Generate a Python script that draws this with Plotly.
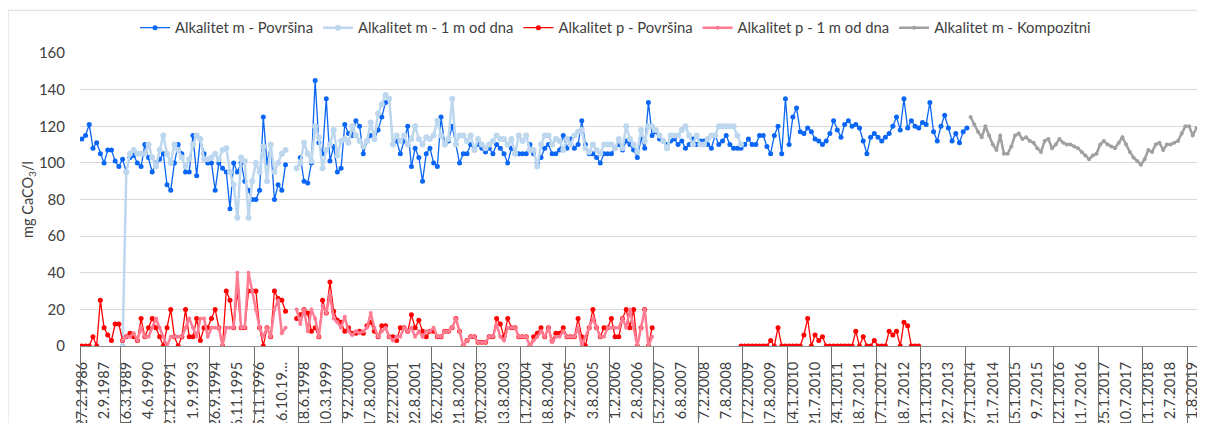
import plotly.graph_objects as go

# ---------------- data (category index = sample number) ----------------
tick_labels = ["27.2.1986", "2.9.1987", "16.3.1989", "4.6.1990", "2.12.1991", "1.9.1993",
               "26.9.1994", "6.11.1995", "5.11.1996", "16.10.19...", "18.6.1998", "10.3.1999",
               "9.2.2000", "17.8.2000", "22.2.2001", "22.8.2001", "26.2.2002", "21.8.2002",
               "20.2.2003", "13.8.2003", "11.2.2004", "18.8.2004", "9.2.2005", "3.8.2005",
               "1.2.2006", "2.8.2006", "15.2.2007", "6.8.2007", "7.2.2008", "7.8.2008",
               "17.2.2009", "17.8.2009", "14.1.2010", "21.7.2010", "24.1.2011", "18.7.2011",
               "17.1.2012", "18.7.2012", "21.1.2013", "22.7.2013", "27.1.2014", "21.7.2014",
               "15.1.2015", "9.7.2015", "12.1.2016", "11.7.2016", "25.1.2017", "10.7.2017",
               "11.1.2018", "2.7.2018", "1.8.2019"]
label_step = 6          # one label every 6 samples
separator_step = 12     # long tick lines every 12 samples
n_categories = 304

# Alkalitet m - Površina (starts at sample 0)
m_pov_start = 0
m_pov = [113, 115, 121, 108, 111, 105, 100, 107, 107, 101, 98, 102, 95, 103, 104, 100, 98, 110, 103, 95,
         100, 102, 105, 88, 85, 100, 110, 105, 95, 95, 115, 93, 113, 105, 100, 100, 85, 100, 97, 95,
         75, 100, 95, 100, 90, 85, 80, 80, 85, 125, 100, 110, 80, 88, 85, 99,
         None, None, None,
         103, 90, 89, 100, 145, 111, 105, 135, 101, 109, 95, 97, 121, 116, 115, 123, 120, 105, 112, 115,
         113, 118, 125, 133, 135, 110, 112, 105, 112, 120, 98, 108, 103, 90, 105, 108, 100, 98, 125, 110,
         112, 120, 110, 100, 105, 105, 110, 108, 110, 108, 106, 108, 105, 110, 108, 105, 100, 108, 105,
         105, 105, 105, 110, 105, 100, 103, 108, 110, 105, 105, 107, 115, 108, 113, 108, 110, 123, 110, 105,
         105, 103, 100, 105, 105, 105, 108, 110, 107, 112, 110, 107, 103, 113, 108, 133, 115, 117, 113, 112,
         110, 112, 113, 110, 112, 108, 110, 113, 110, 112, 112, 110, 108, 115, 110, 112, 115, 110, 108, 108,
         108, 110, 113, 110, 110, 115, 115, 109, 105, 115, 120, 105, 135, 110, 125, 130, 117, 116, 119, 117,
         113, 112, 110, 112, 116, 123, 118, 114, 121, 123, 120, 121, 119, 112, 105, 114, 116, 114, 112, 114,
         116, 120, 125, 118, 135, 119, 123, 120, 119, 122, 121, 133, 117, 112, 120, 126, 119, 112, 116, 111,
         117, 119]

# Alkalitet m - 1 m od dna (starts at sample 11)
m_dno_start = 11
m_dno = [0, 95, 105, 107, 105, 105, 105, 110, 103, 98, 107, 115, 105, 100, 110, 107, 103, 98, 102, 110,
         115, 113, 102, 102, 103, 105, 102, 107, 108, 95, 88, 70, 103, 101, 70, 90, 100, 95, 109, 90,
         110, 95, 100, 105, 107,
         None, None,
         97, 100, 111, 105, 101, 120, 114, 97, 107, 110, 118, 104, 112, 113, 111, 120, 115, 112, 109, 112,
         122, 113, 127, 132, 137, 135, 110, 115, 112, 115, 110, 113, 120, 113, 110, 114, 113, 115, 123, 115,
         110, 113, 135, 110, 115, 115, 112, 115, 107, 113, 110, 108, 110, 112, 115, 113, 113, 110, 113, 105,
         115, 112, 115, 107, 107, 98, 110, 115, 115, 110, 113, 112, 107, 113, 110, 115, 117, 118, 108, 106,
         110, 107, 105, 110, 110, 110, 108, 113, 108, 120, 113, 110, 106, 118, 112, 120, 120, 118, 115, 112,
         108, 115, 115, 115, 118, 120, 115, 110, 115, 110, 110, 113, 115, 115, 120, 120, 120, 120, 120, 115,
         110]

# Alkalitet p - Površina: 1986-2007 (from sample 0) and 2009-2013 (from sample 178)
p_pov_a_start = 0
p_pov_a = [0, 0, 0, 5, 0, 25, 10, 6, 3, 12, 12, 3, 5, 7, 5, 3, 15, 5, 10, 15,
           10, 5, 0, 10, 20, 5, 0, 5, 20, 5, 5, 15, 3, 10, 10, 15, 20, 10, 0, 30,
           25, 10, 30, 10, 10, 30, 30, 30, 10, 0, 10, 5, 30, 26, 25, 19,
           None, None,
           15, 17, 20, 18, 8, 10, 5, 25, 18, 35, 19, 14, 13, 8, 10, 7, 7, 8, 7, 11,
           13, 8, 5, 11, 11, 5, 5, 3,
           10, 10, 8, 17, 10, 14, 8, 5, 8, 8, 5, 5, 8, 8, 10, 15, 8, 0, 3, 5,
           5, 2, 2, 2, 5, 5, 15, 12, 5, 15, 10, 10, 5, 5, 5, 0, 5, 7, 10, 5,
           10, 3, 7, 7, 10, 5, 5, 5, 15, 5, 0, 10, 20, 10, 5, 10, 10, 15, 5, 5,
           15, 20, 10, 20, 0, 10, 20, 0, 10]
p_pov_b_start = 178
p_pov_b = [0, 0, 0, 0, 0, 0, 0, 0, 3, 0, 10, 0, 0, 0, 0, 0, 0, 6, 15, 0,
           6, 3, 5, 0, 0, 0, 0, 0, 0, 0, 0, 8, 0, 5, 0, 0, 3, 0, 0, 0,
           8, 6, 8, 0, 13, 11, 0, 0, 0]

# Alkalitet p - 1 m od dna (starts at sample 11)
p_dno_start = 11
p_dno = [3, 5, 5, 7, 3, 10, 5, 5, 10, 15, 10, 5, 0, 5, 5, 5, 5, 10, 15, 10,
         5, 15, 15, 5, 10, 10, 10, 0, 10, 10, 10, 40, 10, 10, 40, 30, 20, 10, 5, 10,
         5, 20, 25, 7, 10,
         None, None,
         20, 12, 20, 8, 20, 15, 5, 22, 18, 28, 15, 13, 10, 16, 8, 6, 8, 7, 8, 10,
         18, 10, 5, 8, 10, 5, 3, 5,
         5, 10, 8, 10, 5, 8, 5, 8, 8, 10, 5, 5, 8, 8, 10, 15, 8, 0, 3, 5,
         5, 2, 2, 2, 5, 5, 12, 5, 3, 10, 10, 10, 5, 5, 5, 0, 3, 5, 8, 5,
         10, 2, 5, 5, 8, 5, 5, 5, 10, 0, 5, 10, 15, 10, 5, 5, 10, 10, 10, 10,
         15, 10, 20, 10, 0, 10, 20, 0, 5]

# Alkalitet m - Kompozitni (starts at sample 240)
m_komp_start = 240
m_komp = [125, 121, 117, 114, 120, 115, 110, 107, 115, 105, 105, 109, 115, 116, 113, 114, 112, 111, 108, 106,
          112, 113, 108, 110, 113, 111, 110, 110, 109, 108, 106, 104, 102, 104, 105, 110, 112, 110, 109, 108,
          111, 114, 110, 106, 103, 101, 99, 102, 107, 106, 110, 111, 107, 110, 110, 111, 112, 116, 120, 120,
          115, 119, 118, 119]


def idx(start, values):
    return list(range(start, start + len(values)))


FONT = "Lato"
TXT = "#404040"

tickvals = [k * label_step for k in range(len(tick_labels))]
separators = [-0.5] + [10.5 + k * separator_step for k in range(25)]
x_range = [-0.5, n_categories - 0.7]

fig = go.Figure()

# invisible helper so the separator-tick axis (x2) gets drawn
fig.add_trace(go.Scatter(x=x_range, y=[None, None], xaxis="x2", yaxis="y",
                         mode="lines", showlegend=False, hoverinfo="skip"))

fig.add_trace(go.Scatter(
    x=idx(m_pov_start, m_pov), y=m_pov, name="Alkalitet m - Površina",
    mode="lines+markers", connectgaps=False,
    line=dict(color="#0A66F5", width=1.3), marker=dict(color="#0A66F5", size=5)))
fig.add_trace(go.Scatter(
    x=idx(m_dno_start, m_dno), y=m_dno, name="Alkalitet m - 1 m od dna",
    mode="lines+markers", connectgaps=False,
    line=dict(color="#BDD7EE", width=2.5), marker=dict(color="#BDD7EE", size=6)))
fig.add_trace(go.Scatter(
    x=idx(p_pov_a_start, p_pov_a) + [None] + idx(p_pov_b_start, p_pov_b),
    y=p_pov_a + [None] + p_pov_b, name="Alkalitet p - Površina",
    mode="lines+markers", connectgaps=False,
    line=dict(color="#FF0000", width=1.3), marker=dict(color="#FF0000", size=5)))
fig.add_trace(go.Scatter(
    x=idx(p_dno_start, p_dno), y=p_dno, name="Alkalitet p - 1 m od dna",
    mode="lines+markers", connectgaps=False,
    line=dict(color="#FF7C93", width=2.5), marker=dict(color="#FF7C93", size=4)))
fig.add_trace(go.Scatter(
    x=idx(m_komp_start, m_komp), y=m_komp, name="Alkalitet m - Kompozitni",
    mode="lines+markers", connectgaps=False,
    line=dict(color="#A0A0A0", width=2.5), marker=dict(color="#A0A0A0", size=4)))

# page body has an 8px margin: the figure is sized so the plot lands where the reference has it
fig.update_layout(
    width=1197, height=415,
    margin=dict(l=72, r=0, t=45, b=77, autoexpand=False),
    paper_bgcolor="white", plot_bgcolor="white",
    font=dict(family=FONT, color=TXT, size=14),
    showlegend=True,
    legend=dict(orientation="h", x=0.476, xanchor="center", y=1.085, yanchor="middle",
                font=dict(family=FONT, size=14.8, color=TXT), bgcolor="rgba(0,0,0,0)",
                itemwidth=30, tracegroupgap=0),
    xaxis=dict(
        range=x_range, automargin=False,
        tickmode="array", tickvals=tickvals, ticktext=tick_labels,
        tickangle=-90, ticks="", showgrid=False, zeroline=False,
        showline=True, linecolor="#8C8C8C", linewidth=1.2,
        tickfont=dict(family=FONT, size=14.5, color=TXT),
        ticklabelstandoff=9,
    ),
    xaxis2=dict(
        range=x_range, overlaying="x", anchor="y", side="bottom", automargin=False,
        tickmode="array", tickvals=separators, showticklabels=False,
        ticks="outside", ticklen=80, tickwidth=1.2, tickcolor="#6E6E6E",
        showgrid=False, zeroline=False, showline=False,
    ),
    yaxis=dict(
        range=[0, 160], tickmode="linear", tick0=0, dtick=20, automargin=False,
        showgrid=True, gridcolor="#D9D9D9", gridwidth=1.2, zeroline=False,
        showline=False, ticks="",
        tickfont=dict(family=FONT, size=15, color=TXT),
        ticklabelstandoff=14,
        title=dict(text="mg CaCO<sub>3</sub>/l", font=dict(family=FONT, size=14.5, color=TXT),
                   standoff=1),
    ),
    shapes=[dict(type="rect", xref="paper", yref="paper",
                 x0=-0.064, x1=1.2, y0=-0.5, y1=1.1457,
                 line=dict(color="#D9D9D9", width=1), fillcolor="rgba(0,0,0,0)", layer="below")],
)

fig.write_html("out.html")
